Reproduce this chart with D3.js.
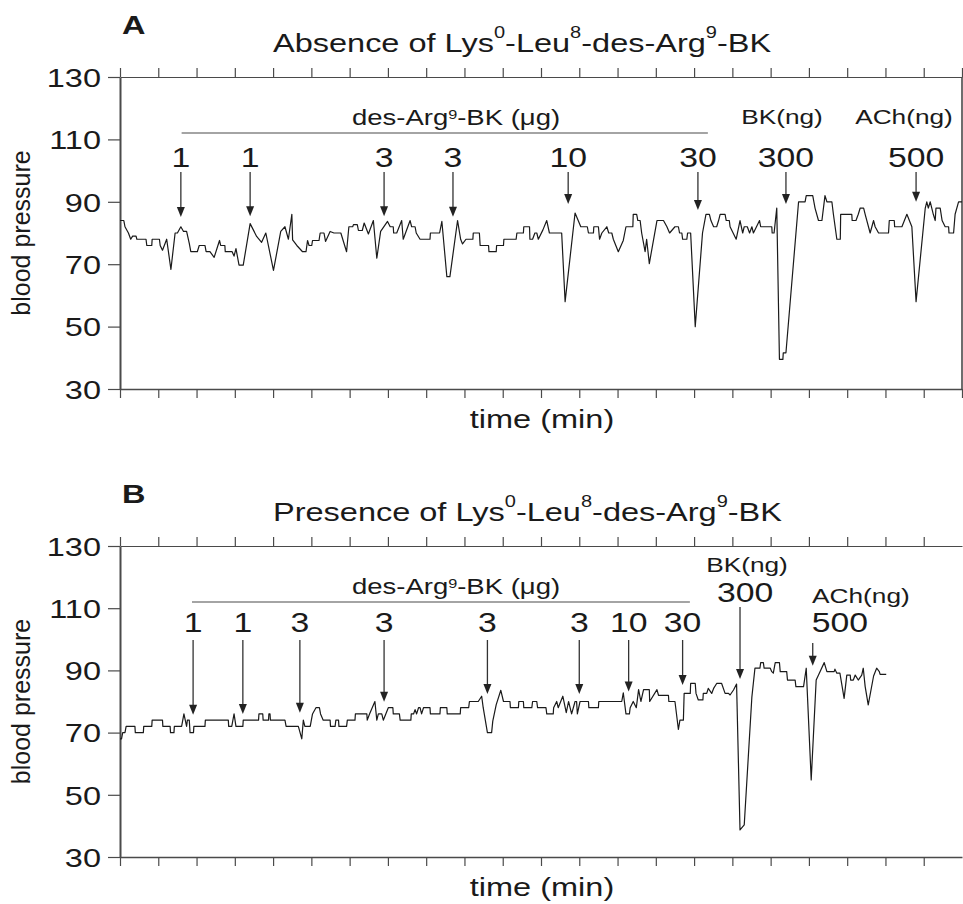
<!DOCTYPE html>
<html>
<head>
<meta charset="utf-8">
<script src="https://cdn.jsdelivr.net/npm/d3@7"></script>
<style>
	body { margin: 0; background: #fff; }
	svg text { font-family: "Liberation Sans", Arial, Helvetica, sans-serif; fill: #1a1a1a; }
</style>
</head>
<body>
<div id="chart-area"></div>
<script>

// ---- data (time in min, blood pressure) ----

// Panel A: absence of the B1 antagonist
const timeA = [0,0.10,0.13,0.22,0.28,0.33,0.42,0.44,0.68,0.70,0.83,0.84,1.03,1.05,1.11,1.22,1.33,1.44,1.50,1.59,
	1.66,1.74,1.81,1.85,2.02,2.07,2.22,2.25,2.35,2.46,2.60,2.63,2.74,2.75,2.93,2.98,3.03,3.11,3.22,3.40,
	3.57,3.70,3.81,4.01,4.20,4.31,4.40,4.49,4.51,4.62,4.77,4.86,4.90,4.94,5.01,5.03,5.20,5.23,5.33,5.37,
	5.49,5.59,5.77,5.92,5.98,6.08,6.10,6.20,6.23,6.33,6.38,6.49,6.62,6.71,6.81,6.99,
	7.06,7.14,7.15,7.23,7.36,7.40,7.58,7.62,7.71,7.74,7.84,8.10,8.11,8.35,8.41,8.54,8.62,8.82,8.90,8.95,
	9.04,9.22,9.23,9.39,9.41,9.63,9.64,9.83,9.84,10.02,10.03,10.35,10.37,10.54,10.55,10.70,10.71,10.78,10.84,10.89,
	10.93,11.05,11.15,11.22,11.54,11.63,11.89,12.04,12.21,12.24,12.37,12.38,12.50,12.53,12.59,12.72,12.77,12.85,12.89,13.02,
	13.15,13.22,13.40,13.41,13.50,13.53,13.59,13.61,13.63,13.72,13.76,13.83,14.03,14.20,14.29,14.36,
	14.50,14.59,14.62,14.68,14.70,14.81,14.83,14.91,15.03,15.22,15.31,15.40,15.44,15.51,15.59,15.64,15.68,15.81,15.84,15.92,
	15.94,16.10,16.20,16.27,16.31,16.39,16.45,16.51,16.55,16.71,16.74,17.03,17.04,17.09,17.16,17.23,17.32,17.33,17.40,17.73,
	17.90,17.93,18.10,18.16,18.25,18.34,18.42,18.47,18.60,18.64,18.73,18.82,18.83,19.12,19.13,19.23,19.29,19.34,19.43,19.47,
	19.60,19.69,19.73,19.82,20.08,20.10,20.23,20.24,20.43,20.56,20.69,20.80,21.04,21.08,21.12,21.17,21.25,21.30,21.32,21.43,
	21.48,21.56,21.65,21.66,21.78,21.82,21.91,22.00];
const bpA = [84,84,82,80,78,79,79,78,78,76,76,78,78,76,74.5,78,68.3,80,80,82,
	80.5,80.5,76.7,74,74,76,76,74,74,72.2,77.6,76,76,74,74,72.6,75,69.7,69.7,83,
	78.9,77,80,68,80.5,82,78,86,77.8,76,74,74,77.6,76,76,77.6,77.6,80,80,77.3,
	80.5,80,80,74,82,82,82.7,82.7,80.8,80.8,83.2,79.7,84,71.9,80.5,83.7,
	82,82,80,80,84,78,84,82,82,80,78,78,80,80,83.7,66,66,84,78,76.5,
	78,78,80,80,76,76,74,74,76,76,78,78,80,80,82,82,78,78,80,80,
	78,81,84,80,80,58,86.4,82,82,80,80,82,82,78,80,82,80,80,78,74,
	77.6,82,82,86,86,84,84,82,80,74,78,70.2,84,84,82,80,
	82,82,80,80,78,78,80,80,50,80,86,86,84,82,82,84,86,86,84,84,
	82,78,84,80,82,82,80,82,80,84,82,82,80,80,88,39.5,39.5,41.6,41.6,90,
	90,92,92,88,84,84,92,90,90,86,78,78,86,86,84,84,86,88,88,86,
	80,84,82,80,80,84,84,82,82,86,82,58,88,90,88,90,86,84,88,88,
	84,82,82,80,80,86,90,90];

// Panel B: presence of the B1 antagonist
const timeB = [0,0.04,0.07,0.13,0.16,0.39,0.40,0.61,0.62,0.83,0.84,1.11,1.12,1.31,1.32,1.41,1.42,1.61,1.67,1.74,
	1.76,1.81,1.83,1.92,1.93,2.22,2.23,2.83,2.84,2.92,2.98,3.03,3.21,3.22,3.62,3.63,3.73,3.74,3.88,3.89,
	3.92,3.93,4.31,4.34,4.66,4.75,4.79,4.83,4.97,5.03,5.12,5.21,5.24,5.31,5.49,5.50,5.62,5.64,5.71,5.72,
	5.92,5.94,6.14,6.15,6.45,6.46,6.52,6.66,6.71,6.75,6.84,6.88,7.01,7.13,
	7.14,7.30,7.32,7.60,7.61,7.67,7.71,7.75,7.80,7.84,7.88,7.93,8.10,8.11,8.36,8.37,8.54,8.55,8.89,8.90,
	9.11,9.13,9.36,9.45,9.49,9.60,9.71,9.74,9.83,9.95,10.02,10.19,10.20,10.41,10.42,10.54,10.55,10.76,10.78,10.89,
	10.91,11.13,11.15,11.32,11.33,11.41,11.45,11.57,11.66,11.72,11.80,11.89,11.93,11.95,12.02,12.24,12.25,12.50,12.51,12.72,
	13.11,13.15,13.22,13.31,13.33,13.41,13.49,13.55,13.61,13.68,13.83,13.84,14.03,14.07,14.33,14.34,14.50,14.59,14.63,
	14.72,14.74,14.90,14.91,15.03,15.05,15.11,15.23,15.24,15.33,15.37,15.46,15.51,15.59,15.72,15.81,15.90,15.94,16.03,16.11,
	16.20,16.31,16.51,16.59,16.72,16.74,16.81,16.83,16.99,17.03,17.07,17.12,17.23,17.25,17.42,17.44,17.64,17.66,17.86,17.93,
	18.06,18.19,18.29,18.40,18.47,18.66,18.68,18.73,18.81,18.92,18.99,19.08,19.09,19.16,19.21,19.29,19.38,19.42,19.47,19.55,
	19.69,19.77,19.84,19.86,20.02];
const bpB = [68,68,70,70,72,72,70,70,72,72,74,74,72,72,70,70,72,72,76,72,
	74,74,70,70,72,72,74,74,72,72,76,72,72,74,74,76,76,74,74,76,
	76,74,74,72,72,68,74,72,72,76,78,78,76,74,74,72,72,74,74,72,
	72,74,74,76,76,74,76,80,74,76,76,74,78,78,
	76,76,74,74,76,76,77.4,76,78,78,76,78,78,76,76,78,78,76,76,78,
	78,80,80,81.7,78,70,70,73.7,79,83.6,80,80,78,78,80,80,78,78,80,80,
	78,78,76,76,78,80,78,81.7,76.4,80,76,80,80,76,80,80,78,78,80,80,
	80,82.8,76,76,78,80,78,83.8,80,83.8,83.8,80,83.8,82,82,80,80,71,74,
	74,82.6,82.6,85.8,85.8,82.6,80.5,80.5,82.6,82.6,84.2,82.6,84.2,85.8,85.8,82.6,82.6,82.1,83.7,85.6,
	38.7,40.3,81.5,90.7,90.7,92.5,92.5,90.7,90.7,89.6,89.1,92.5,92.5,89.6,89.6,86.9,86.9,84.8,84.8,90.7,
	54.8,86.9,89.6,92.5,89.6,89.6,90.4,89.1,89.1,81,88.5,88.5,86.9,86.9,88.5,86.9,88.5,90.7,84.8,78.9,
	88.2,90.7,89.6,88.7,88.7];

// injections: time of the arrow, pressure at the arrow tip, dose label
const doseTimeA = [1.59, 3.40, 6.90, 8.70, 11.71, 15.10, 17.40, 20.80];
const doseTipA = [85.1, 85.4, 85.4, 85.2, 89.3, 87.4, 89.3, 90.0];
const doseLabelA = ["1", "1", "3", "3", "10", "30", "300", "500"];

const doseTimeB = [1.91, 3.21, 4.70, 6.90, 9.60, 12.00, 13.29, 14.70, 16.20, 18.10];
const doseTipB = [75.7, 76.0, 76.4, 79.9, 82.4, 82.4, 83.2, 85.3, 87.2, 91.5];
const doseLabelB = ["1", "1", "3", "3", "3", "3", "10", "30", "300", "500"];

const yTicks = [30, 50, 70, 90, 110, 130];

// ---- layout ----
const width = 963, height = 904;
const left = 120, right = 962;
const stretch = 1.25;          // lettering in the figure is widened horizontally
const axisColor = "#4a4a4a";
const arrowColor = "#333";

const svg = d3.select("#chart-area")
	.append("svg")
	.attr("width", width)
	.attr("height", height);

const x = d3.scaleLinear().domain([0, 22]).range([left, right]);

// text with optional superscripts: parts starting with "^" are raised
function addText(parent, px, py, parts, size, anchor, rise, weight) {
	const t = parent.append("text")
		.attr("transform", `translate(${px},${py}) scale(${stretch},1)`)
		.attr("text-anchor", anchor || "start")
		.style("font-size", size + "px");
	if (weight) t.style("font-weight", weight);
	let up = false;
	[].concat(parts).forEach(s => {
		const sup = s[0] === "^";
		const ts = t.append("tspan").text(sup ? s.slice(1) : s);
		if (sup) ts.attr("dy", -rise).style("font-size", Math.round(size * 0.6) + "px");
		else if (up) ts.attr("dy", rise);
		up = sup;
	});
	return t;
}

function styleAxis(g, domainWidth) {
	g.attr("font-size", null).attr("font-family", null);
	g.select(".domain").attr("stroke", axisColor).attr("stroke-width", domainWidth);
	g.selectAll(".tick line").attr("stroke", axisColor).attr("stroke-width", 1.2);
}

function drawPanel(p) {
	const y = d3.scaleLinear().domain([30, 130]).range([p.bottom, p.top]);
	const g = svg.append("g");

	// top and bottom time axes
	const xTicks = d3.range(0, p.tickCount + 1);
	const top = g.append("g")
		.attr("transform", "translate(0," + p.top + ")")
		.call(d3.axisTop(x).tickValues(xTicks).tickSize(9).tickSizeOuter(0).tickFormat(""));
	styleAxis(top, 1.2);
	const bottom = g.append("g")
		.attr("transform", "translate(0," + p.bottom + ")")
		.call(d3.axisBottom(x).tickValues(xTicks).tickSize(9).tickSizeOuter(0).tickFormat(""));
	styleAxis(bottom, 1.4);

	if (p.rightBorder) {
		g.append("line")
			.attr("x1", x(22)).attr("x2", x(22))
			.attr("y1", p.top).attr("y2", p.bottom)
			.attr("stroke", axisColor).attr("stroke-width", 1.6);
	}

	// pressure axis
	const yAxis = g.append("g")
		.attr("transform", "translate(" + left + ",0)")
		.call(d3.axisLeft(y).tickValues(yTicks).tickSize(12).tickSizeOuter(0));
	styleAxis(yAxis, 2);
	yAxis.selectAll(".tick text")
		.attr("x", -19 / stretch)
		.attr("dy", "0.36em")
		.attr("transform", `scale(${stretch},1)`)
		.style("font-size", "26px")
		.attr("fill", "#1a1a1a");

	// recording trace
	const pts = d3.zip(p.time, p.bp);
	g.append("path")
		.datum(pts)
		.attr("d", d3.line().x(d => x(d[0])).y(d => y(d[1])))
		.attr("fill", "none")
		.attr("stroke", "#1a1a1a")
		.attr("stroke-width", 1.2)
		.attr("stroke-linejoin", "round");

	// injection arrows and doses
	p.doseTime.forEach((t, i) => {
		const ax = x(t);
		const ty = y(p.doseTip[i]);
		const y0 = p.arrowTop[i];
		g.append("line")
			.attr("x1", ax).attr("x2", ax)
			.attr("y1", y0).attr("y2", ty - 8)
			.attr("stroke", arrowColor).attr("stroke-width", 1.3);
		g.append("path")
			.attr("d", `M${ax - 4},${ty - 10}L${ax + 4},${ty - 10}L${ax},${ty}Z`)
			.attr("fill", "#222");
		addText(g, ax + p.labelShift[i], p.labelBase[i], p.doseLabel[i], 27, p.labelAnchor[i]);
	});

	// des-Arg9-BK bracket
	g.append("line")
		.attr("x1", x(p.bracket[0])).attr("x2", x(p.bracket[1]))
		.attr("y1", p.bracketY).attr("y2", p.bracketY)
		.attr("stroke", axisColor).attr("stroke-width", 1.2);
	addText(g, 456, p.bracketY - 8, ["des-Arg", "^9", "-BK (\u03bcg)"], 22, "middle", 6);

	p.extra.forEach(e => addText(g, e[0], e[1], e[2], 21, e[3]));

	// panel letter, title, axis titles
	addText(g, 122, p.top - 43, p.letter, 26, "start", 0, "bold");
	addText(g, 273, p.top - 25, p.title, 26, "start", 14);
	addText(g, 542, p.bottom + 39, "time (min)", 26, "middle");
	g.append("text")
		.attr("transform", "translate(30," + (p.top + p.bottom) / 2 + ") rotate(-90)")
		.attr("text-anchor", "middle")
		.style("font-size", "25px")
		.text("blood pressure");
}

drawPanel({
	letter: "A",
	title: ["Absence of Lys", "^0", "-Leu", "^8", "-des-Arg", "^9", "-BK"],
	top: 77, bottom: 389, tickCount: 22, rightBorder: true,
	time: timeA, bp: bpA,
	doseTime: doseTimeA, doseTip: doseTipA, doseLabel: doseLabelA,
	arrowTop: doseTimeA.map(() => 172),
	labelBase: doseTimeA.map(() => 167),
	labelShift: doseTimeA.map(() => 0),
	labelAnchor: doseTimeA.map(() => "middle"),
	bracket: [1.61, 15.36], bracketY: 133,
	extra: [[782, 124, "BK(ng)", "middle"], [904, 124, "ACh(ng)", "middle"]]
});

drawPanel({
	letter: "B",
	title: ["Presence of Lys", "^0", "-Leu", "^8", "-des-Arg", "^9", "-BK"],
	top: 546, bottom: 857, tickCount: 21, rightBorder: false,
	time: timeB, bp: bpB,
	doseTime: doseTimeB, doseTip: doseTipB, doseLabel: doseLabelB,
	arrowTop: [640, 640, 640, 640, 640, 640, 640, 640, 607, 643],
	labelBase: [632, 632, 632, 632, 632, 632, 632, 632, 602, 632],
	labelShift: [0, 0, 0, 0, 0, 0, 0, 0, 5, -1],
	labelAnchor: ["middle", "middle", "middle", "middle", "middle", "middle", "middle", "middle", "middle", "start"],
	bracket: [1.88, 14.89], bracketY: 602,
	extra: [[747, 572, "BK(ng)", "middle"], [812, 603, "ACh(ng)", "start"]]
});

</script>
</body>
</html>
